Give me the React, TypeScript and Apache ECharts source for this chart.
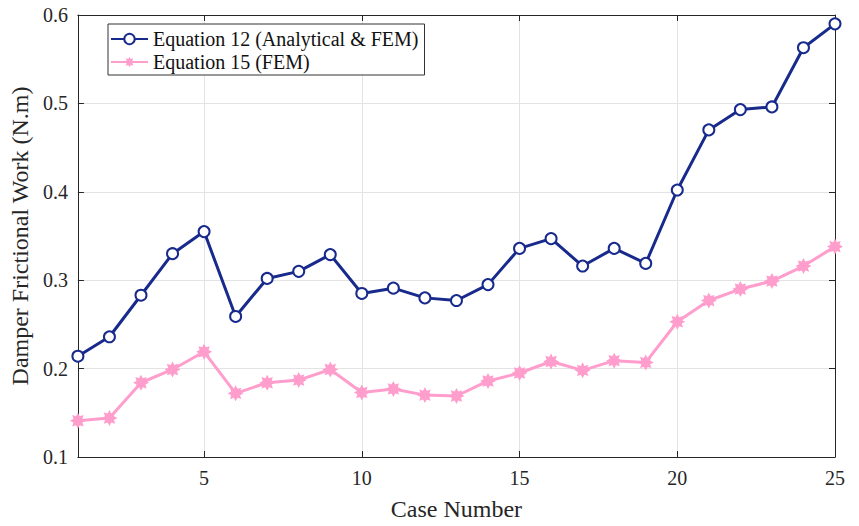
import React, { useEffect, useRef } from "react";
import * as echarts from "echarts";

const caseNumbers = [1, 2, 3, 4, 5, 6, 7, 8, 9, 10, 11, 12, 13, 14, 15, 16, 17, 18, 19, 20, 21, 22, 23, 24, 25];
const eq12Values = [0.214, 0.236, 0.283, 0.330, 0.355, 0.259, 0.302, 0.310, 0.329, 0.285, 0.291, 0.280, 0.277, 0.295, 0.336, 0.347, 0.316, 0.336, 0.319, 0.402, 0.470, 0.493, 0.496, 0.563, 0.590];
const eq15Values = [0.141, 0.144, 0.184, 0.199, 0.219, 0.172, 0.184, 0.187, 0.199, 0.173, 0.177, 0.170, 0.169, 0.186, 0.195, 0.208, 0.198, 0.209, 0.207, 0.253, 0.277, 0.290, 0.299, 0.316, 0.338];
const xTicks = [5, 10, 15, 20, 25];
const seriesNames = ["Equation 12 (Analytical & FEM)", "Equation 15 (FEM)"];

const FONT = "Liberation Serif";
const BLUE = "#182a8c";
const PINK = "#ff9dcc";
const STAR =
  "path://M20 10 L15.6 12.3 L17.07 17.07 L12.3 15.6 L10 20 L7.7 15.6 L2.93 17.07 L4.4 12.3 L0 10 L4.4 7.7 L2.93 2.93 L7.7 4.4 L10 0 L12.3 4.4 L17.07 2.93 L15.6 7.7 Z";

export default function App() {
  const ref = useRef<HTMLDivElement>(null);
  useEffect(() => {
    if (!ref.current) return;
    const chart = echarts.init(ref.current, null, { renderer: "svg" });
    const axisLine = { show: true, lineStyle: { color: "#262626", width: 1 } };
    const baseX = {
      type: "value" as const,
      min: 1,
      max: 25,
      axisLine,
      axisTick: { inside: true, length: 6, customValues: xTicks, lineStyle: { color: "#262626" } },
    };
    const baseY = {
      type: "value" as const,
      min: 0.1,
      max: 0.6,
      interval: 0.1,
      axisLine,
      axisTick: { inside: true, length: 6, lineStyle: { color: "#262626" } },
    };
    chart.setOption({
      animation: false,
      backgroundColor: "#ffffff",
      grid: { left: 77, right: 24, top: 15, bottom: 64, containLabel: false },
      legend: {
        orient: "vertical",
        left: 108,
        top: 24,
        backgroundColor: "#ffffff",
        borderColor: "#333333",
        borderWidth: 1,
        padding: [5, 6, 3, 2],
        itemGap: 3,
        itemWidth: 37,
        itemHeight: 13,
        textStyle: { fontFamily: FONT, fontSize: 20, color: "#111111" },
        data: seriesNames,
      },
      xAxis: [
        {
          ...baseX,
          position: "bottom",
          name: "Case Number",
          nameLocation: "middle",
          nameGap: 40,
          nameTextStyle: { fontFamily: FONT, fontSize: 24, color: "#262626" },
          axisLabel: {
            customValues: xTicks,
            margin: 11,
            fontFamily: FONT,
            fontSize: 20,
            color: "#262626",
          },
          splitLine: { show: true, lineStyle: { color: "#e3e3e3", width: 1 } },
        },
        {
          ...baseX,
          position: "top",
          axisLabel: { show: false },
          splitLine: { show: false },
        },
      ],
      yAxis: [
        {
          ...baseY,
          position: "left",
          name: "Damper Frictional Work (N.m)",
          nameLocation: "middle",
          nameGap: 44,
          nameTextStyle: { fontFamily: FONT, fontSize: 24, color: "#262626" },
          axisLabel: {
            margin: 10,
            fontFamily: FONT,
            fontSize: 20,
            color: "#262626",
            formatter: (v: number) => v.toFixed(1),
          },
          splitLine: { show: true, lineStyle: { color: "#e3e3e3", width: 1 } },
        },
        {
          ...baseY,
          position: "right",
          axisLabel: { show: false },
          splitLine: { show: false },
        },
      ],
      series: [
        {
          name: seriesNames[0],
          type: "line",
          data: caseNumbers.map((c, i) => [c, eq12Values[i]]),
          symbol: "emptyCircle",
          symbolSize: 11,
          showAllSymbol: true,
          lineStyle: { color: BLUE, width: 3 },
          itemStyle: { color: BLUE, borderColor: BLUE, borderWidth: 3 },
          z: 3,
        },
        {
          name: seriesNames[1],
          type: "line",
          data: caseNumbers.map((c, i) => [c, eq15Values[i]]),
          symbol: STAR,
          symbolSize: 16,
          showAllSymbol: true,
          lineStyle: { color: PINK, width: 3 },
          itemStyle: { color: PINK, borderColor: PINK, borderWidth: 0 },
          z: 2,
        },
      ],
    });
    return () => chart.dispose();
  }, []);
  return (
    <div
      ref={ref}
      style={{ position: "fixed", left: 0, top: 0, width: 859, height: 526, background: "#fff" }}
    />
  );
}
